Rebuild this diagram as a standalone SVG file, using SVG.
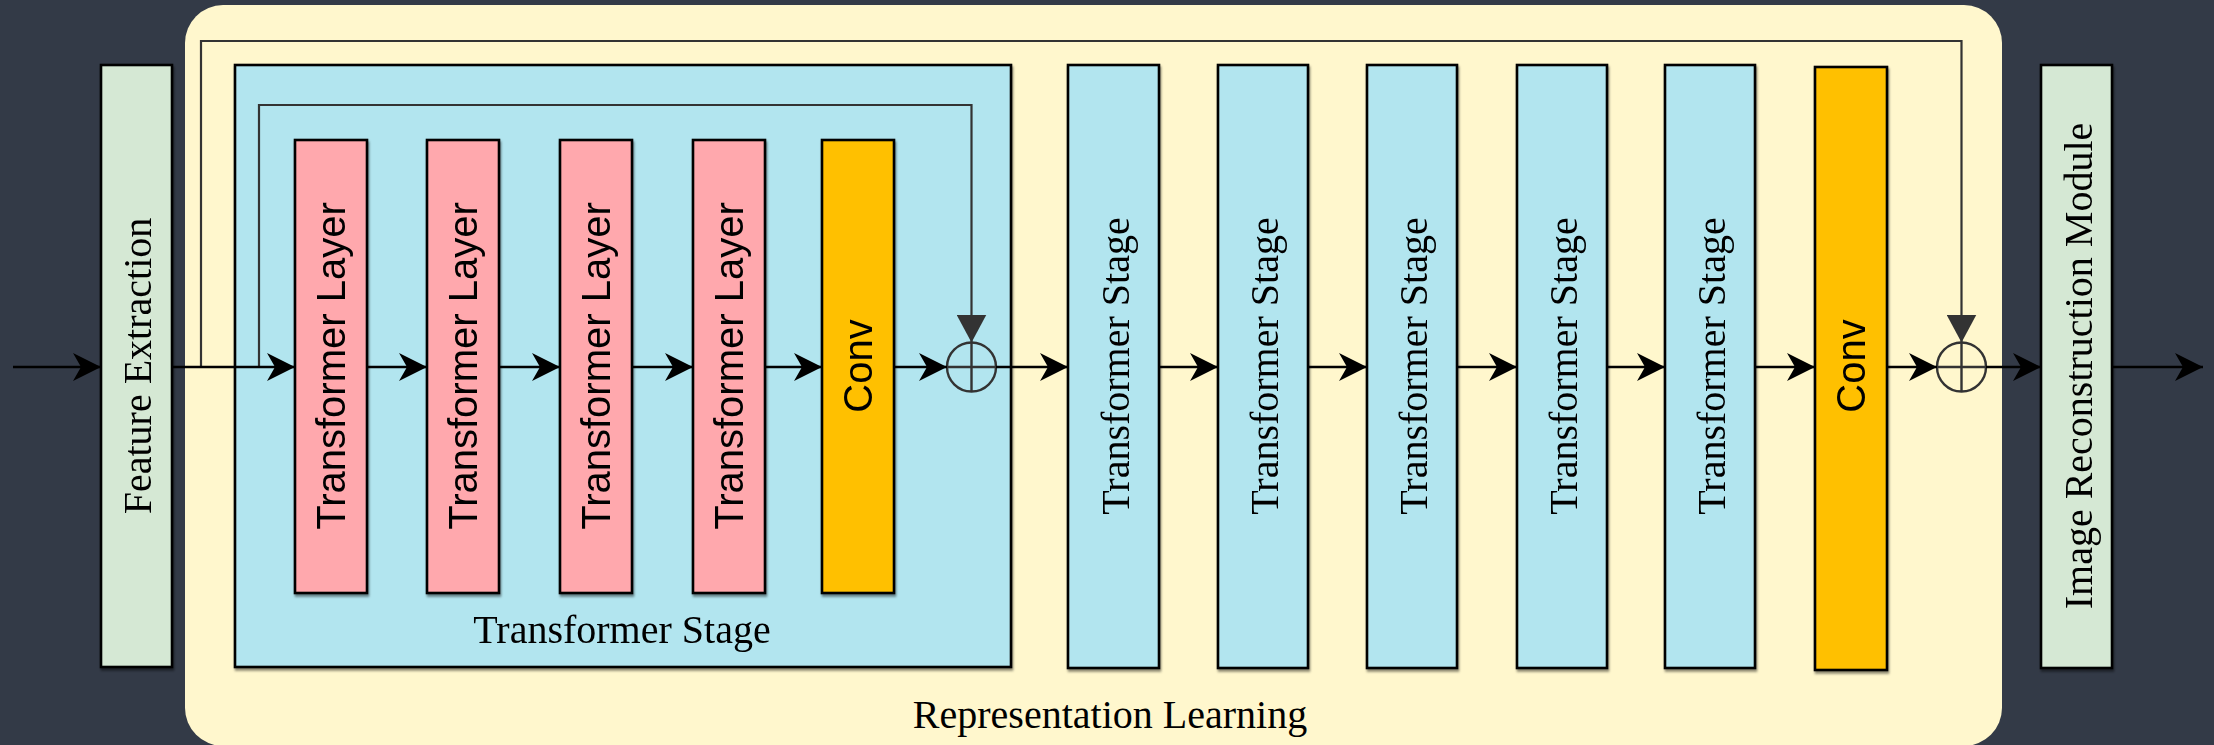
<svg xmlns="http://www.w3.org/2000/svg" width="2214" height="745" viewBox="0 0 2214 745">
<style>
.box{stroke:#000;stroke-width:2.6}
.pink{fill:#ffa8ad}
.blue{fill:#b2e5ef}
.green{fill:#d5e8d4}
.orange{fill:#ffc000}
.serif{font-family:"Liberation Serif","Times New Roman",serif;font-size:40px;fill:#000}
.sans{font-family:"Liberation Sans",Arial,sans-serif;font-size:40px;fill:#000}
.flow{stroke:#000;stroke-width:2.6;fill:none}
.skip{stroke:#333;stroke-width:2.2;fill:none}
.sum{stroke:#333;stroke-width:2.4;fill:none}
</style>
<defs>
<marker id="arr" viewBox="0 0 28 28" refX="28" refY="14" markerWidth="28" markerHeight="28" markerUnits="userSpaceOnUse" orient="auto">
<path d="M0,0 L28,14 L0,28 L8,14 Z" fill="#000"/>
</marker>
<marker id="blk" viewBox="0 0 28 30" refX="28" refY="15" markerWidth="28" markerHeight="30" markerUnits="userSpaceOnUse" orient="auto">
<path d="M0,0 L28,15 L0,30 Z" fill="#333"/>
</marker>
<filter id="sh" x="-10%" y="-10%" width="120%" height="120%">
<feDropShadow dx="1" dy="2.5" stdDeviation="0.8" flood-color="#000" flood-opacity="0.45"/>
</filter>
</defs>
<rect x="0" y="0" width="2214" height="745" fill="#333a47"/>

<g id="representation-learning">
<rect x="185" y="5" width="1817" height="741" rx="38" fill="#fff7cd"/>
<text class="serif" x="1110" y="728" text-anchor="middle">Representation Learning</text>
</g>

<g id="feature-extraction" filter="url(#sh)">
<rect class="box green" x="101" y="65" width="71" height="602"/>
<text class="serif" transform="translate(136.5,366) rotate(-90)" x="0" y="14" text-anchor="middle">Feature Extraction</text>
</g>

<g id="transformer-stage-main" filter="url(#sh)">
<rect class="box blue" x="235" y="65" width="776" height="602"/>
<text class="serif" x="622" y="643" text-anchor="middle">Transformer Stage</text>
</g>

<g id="transformer-layer-1" filter="url(#sh)">
<rect class="box pink" x="295" y="140" width="72" height="453"/>
<text class="sans" transform="translate(331,366) rotate(-90)" x="0" y="14" text-anchor="middle">Transformer Layer</text>
</g>
<g id="transformer-layer-2" filter="url(#sh)">
<rect class="box pink" x="427" y="140" width="72" height="453"/>
<text class="sans" transform="translate(463,366) rotate(-90)" x="0" y="14" text-anchor="middle">Transformer Layer</text>
</g>
<g id="transformer-layer-3" filter="url(#sh)">
<rect class="box pink" x="560" y="140" width="72" height="453"/>
<text class="sans" transform="translate(596,366) rotate(-90)" x="0" y="14" text-anchor="middle">Transformer Layer</text>
</g>
<g id="transformer-layer-4" filter="url(#sh)">
<rect class="box pink" x="693" y="140" width="72" height="453"/>
<text class="sans" transform="translate(729,366) rotate(-90)" x="0" y="14" text-anchor="middle">Transformer Layer</text>
</g>
<g id="conv-1" filter="url(#sh)">
<rect class="box orange" x="822" y="140" width="72" height="453"/>
<text class="sans" transform="translate(858,366) rotate(-90)" x="0" y="14" text-anchor="middle">Conv</text>
</g>

<g id="transformer-stage-1" filter="url(#sh)">
<rect class="box blue" x="1068" y="65" width="91" height="603"/>
<text class="serif" transform="translate(1114,366) rotate(-90)" x="0" y="15" text-anchor="middle">Transformer Stage</text>
</g>
<g id="transformer-stage-2" filter="url(#sh)">
<rect class="box blue" x="1218" y="65" width="90" height="603"/>
<text class="serif" transform="translate(1263,366) rotate(-90)" x="0" y="15" text-anchor="middle">Transformer Stage</text>
</g>
<g id="transformer-stage-3" filter="url(#sh)">
<rect class="box blue" x="1367" y="65" width="90" height="603"/>
<text class="serif" transform="translate(1412,366) rotate(-90)" x="0" y="15" text-anchor="middle">Transformer Stage</text>
</g>
<g id="transformer-stage-4" filter="url(#sh)">
<rect class="box blue" x="1517" y="65" width="90" height="603"/>
<text class="serif" transform="translate(1562,366) rotate(-90)" x="0" y="15" text-anchor="middle">Transformer Stage</text>
</g>
<g id="transformer-stage-5" filter="url(#sh)">
<rect class="box blue" x="1665" y="65" width="90" height="603"/>
<text class="serif" transform="translate(1710,366) rotate(-90)" x="0" y="15" text-anchor="middle">Transformer Stage</text>
</g>
<g id="conv-2" filter="url(#sh)">
<rect class="box orange" x="1815" y="67" width="72" height="603"/>
<text class="sans" transform="translate(1851,366) rotate(-90)" x="0" y="14" text-anchor="middle">Conv</text>
</g>

<g id="image-reconstruction" filter="url(#sh)">
<rect class="box green" x="2041" y="65" width="71" height="603"/>
<text class="serif" transform="translate(2076.5,366) rotate(-90)" x="0" y="15" text-anchor="middle">Image Reconstruction Module</text>
</g>

<g id="sum-1">
<circle class="sum" cx="971.5" cy="367" r="24.5"/>
<path class="sum" d="M947,367 H996 M971.5,342.5 V391.5"/>
</g>
<g id="sum-2">
<circle class="sum" cx="1961.5" cy="367" r="24.5"/>
<path class="sum" d="M1937,367 H1986 M1961.5,342.5 V391.5"/>
</g>

<g id="connectors">
<path class="skip" d="M201,367 V41 H1961.5 V342.5" marker-end="url(#blk)"/>
<path class="skip" d="M259,367 V105 H971.5 V342.5" marker-end="url(#blk)"/>
<path class="flow" d="M13,367 H101" marker-end="url(#arr)"/>
<path class="flow" d="M172,367 H295" marker-end="url(#arr)"/>
<path class="flow" d="M367,367 H427" marker-end="url(#arr)"/>
<path class="flow" d="M499,367 H560" marker-end="url(#arr)"/>
<path class="flow" d="M632,367 H693" marker-end="url(#arr)"/>
<path class="flow" d="M765,367 H822" marker-end="url(#arr)"/>
<path class="flow" d="M894,367 H947" marker-end="url(#arr)"/>
<path class="flow" d="M996,367 H1068" marker-end="url(#arr)"/>
<path class="flow" d="M1159,367 H1218" marker-end="url(#arr)"/>
<path class="flow" d="M1308,367 H1367" marker-end="url(#arr)"/>
<path class="flow" d="M1457,367 H1517" marker-end="url(#arr)"/>
<path class="flow" d="M1607,367 H1665" marker-end="url(#arr)"/>
<path class="flow" d="M1755,367 H1815" marker-end="url(#arr)"/>
<path class="flow" d="M1887,367 H1937" marker-end="url(#arr)"/>
<path class="flow" d="M1986,367 H2041" marker-end="url(#arr)"/>
<path class="flow" d="M2112,367 H2203" marker-end="url(#arr)"/>
</g>
</svg>
